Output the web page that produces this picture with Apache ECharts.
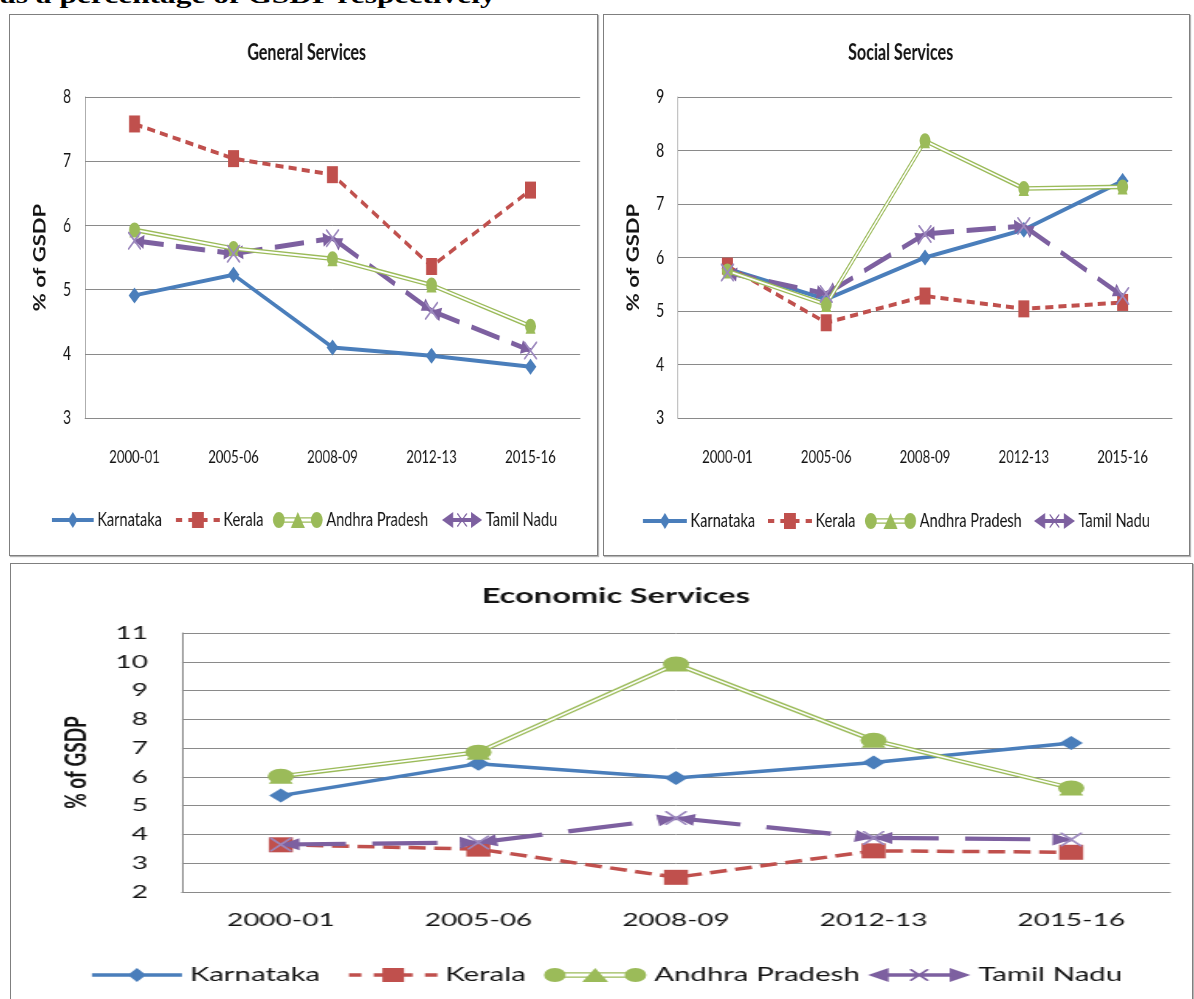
<!DOCTYPE html>
<html>
<head>
<meta charset="utf-8">
<script src="https://cdn.jsdelivr.net/npm/echarts@6/dist/echarts.min.js"></script>
<style>
  html, body { margin: 0; padding: 0; background: #fff; width: 1194px; height: 999px; overflow: hidden; position: relative; }
  .chart { position: absolute; transform-origin: 0 0; }
  .panel { position: absolute; box-sizing: border-box; border: 1px solid #7f7f7f; box-shadow: 1px 1px 1px #b5b5b5; pointer-events: none; }
  #head { position: absolute; left: 0; top: -17px; font: bold 24px/24px 'Liberation Serif', 'Times New Roman', serif; white-space: nowrap; transform-origin: 0 0; transform: scaleX(1.31); color: #000; }
</style>
</head>
<body>
<div id="head">as a percentage of GSDP respectively</div>
<div id="c1" class="chart"></div>
<div id="c2" class="chart"></div>
<div id="c3" class="chart"></div>
<div id="p1" class="panel"></div>
<div id="p2" class="panel"></div>
<div id="p3" class="panel"></div>
<script>
// Years shown on every category axis
const categories = ['2000-01', '2005-06', '2008-09', '2012-13', '2015-16'];
const states = ['Karnataka', 'Kerala', 'Andhra Pradesh', 'Tamil Nadu'];

// General Services expenditure, % of GSDP
const generalKarnataka = [4.91, 5.23, 4.10, 3.97, 3.80];
const generalKerala    = [7.58, 7.04, 6.79, 5.36, 6.55];
const generalAndhra    = [5.93, 5.64, 5.48, 5.07, 4.43];
const generalTamil     = [5.76, 5.56, 5.80, 4.67, 4.05];

// Social Services expenditure, % of GSDP
const socialKarnataka = [5.79, 5.22, 6.00, 6.52, 7.43];
const socialKerala    = [5.84, 4.78, 5.28, 5.04, 5.16];
const socialAndhra    = [5.75, 5.12, 8.18, 7.29, 7.32];
const socialTamil     = [5.72, 5.32, 6.44, 6.59, 5.28];

// Economic Services expenditure, % of GSDP
const economicKarnataka = [5.35, 6.46, 5.96, 6.50, 7.18];
const economicKerala    = [3.64, 3.49, 2.51, 3.43, 3.38];
const economicAndhra    = [6.02, 6.86, 9.92, 7.27, 5.61];
const economicTamil     = [3.65, 3.72, 4.57, 3.88, 3.82];

// Axis ranges
const generalAxis  = { min: 3, max: 8,  interval: 1 };
const socialAxis   = { min: 3, max: 9,  interval: 1 };
const economicAxis = { min: 2, max: 11, interval: 1 };

const COLOR = {
  karnataka: '#4A7EBB',
  kerala: '#C0504D',
  andhra: '#9BBB59',
  tamil: '#7D60A0',
  tamilMark: '#9C88BE',
  grid: '#8a8a8a',
  text: '#141414'
};
const FONT = "Lato, 'Open Sans', sans-serif";

// ---- small path helpers (all shapes wound clockwise so unions fill solid)
const f = v => (+v).toFixed(2);
function rectPath(x0, y0, x1, y1) {
  return `M${f(x0)} ${f(y0)}L${f(x1)} ${f(y0)}L${f(x1)} ${f(y1)}L${f(x0)} ${f(y1)}Z`;
}
function circlePath(cx, cy, r) {
  return `M${f(cx - r)} ${f(cy)}A${f(r)} ${f(r)} 0 1 1 ${f(cx + r)} ${f(cy)}A${f(r)} ${f(r)} 0 1 1 ${f(cx - r)} ${f(cy)}Z`;
}
function diamondPath(cx, cy, dx, dy) {
  return `M${f(cx)} ${f(cy - dy)}L${f(cx + dx)} ${f(cy)}L${f(cx)} ${f(cy + dy)}L${f(cx - dx)} ${f(cy)}Z`;
}
function crossPath(x, y, s, t) {
  return `M${f(x)} ${f(y)}L${f(x + t)} ${f(y)}L${f(x + s)} ${f(y + s - t)}L${f(x + s)} ${f(y + s)}L${f(x + s - t)} ${f(y + s)}L${f(x)} ${f(y + t)}Z` +
         `M${f(x + s)} ${f(y)}L${f(x + s)} ${f(y + t)}L${f(x + t)} ${f(y + s)}L${f(x)} ${f(y + s)}L${f(x)} ${f(y + s - t)}L${f(x + s - t)} ${f(y)}Z`;
}

// Marker shapes
const andhraMarker = 'path://' + circlePath(5, 5, 5) + 'M5 1L9.6 10L0.4 10Z';
const tamilMarker = 'path://' + crossPath(0, 0, 20, 1.6);

// Legend icons (drawn in an exact w x h box)
function iconKarnataka(w, h, lw) {
  return 'path://' + rectPath(0, h / 2 - lw / 2, w, h / 2 + lw / 2) + diamondPath(w / 2, h / 2, h * 0.42, h / 2);
}
function iconKerala(w, h, lw) {
  const y0 = h / 2 - lw / 2, y1 = h / 2 + lw / 2;
  return 'path://' + rectPath(0, y0, w * 0.14, y1) + rectPath(w * 0.28, y0, w * 0.72, y1) +
         rectPath(w * 0.86, y0, w, y1) + rectPath(w / 2 - h * 0.5, 0, w / 2 + h * 0.5, h);
}
function iconAndhra(w, h) {
  const r = h / 2, t = 1.3, g = 1.4;
  return 'path://' + rectPath(r, h / 2 - g - t, w - r, h / 2 - g) + rectPath(r, h / 2 + g, w - r, h / 2 + g + t) +
         circlePath(r, h / 2, r) + circlePath(w - r, h / 2, r) +
         `M${f(w / 2)} 0L${f(w / 2 + h * 0.6)} ${f(h)}L${f(w / 2 - h * 0.6)} ${f(h)}Z`;
}
function iconTamil(w, h, lw) {
  const tl = h * 0.95, s = h * 0.85;
  return 'path://' + `M0 ${f(h / 2)}L${f(tl)} 0L${f(tl)} ${f(h)}Z` +
         `M${f(w)} ${f(h / 2)}L${f(w - tl)} ${f(h)}L${f(w - tl)} 0Z` +
         rectPath(tl * 0.8, h / 2 - lw / 2, w - tl * 0.8, h / 2 + lw / 2) +
         crossPath(w / 2 - s / 2, h / 2 - s / 2, s, 1.1);
}

function buildSeries(d, st) {
  const tamilSegments = [];
  for (let i = 0; i < categories.length - 1; i++) {
    tamilSegments.push([{ coord: [i, d.tn[i]] }, { coord: [i + 1, d.tn[i + 1]] }]);
  }
  return [
    { name: 'Karnataka', type: 'line', data: d.kar, symbol: 'diamond', symbolSize: st.diamond,
      itemStyle: { color: COLOR.karnataka, borderWidth: 0 },
      lineStyle: { color: COLOR.karnataka, width: st.lw }, z: 3 },
    { name: 'Kerala', type: 'line', data: d.ker, symbol: 'rect', symbolSize: st.square,
      itemStyle: { color: COLOR.kerala, borderWidth: 0 },
      lineStyle: { color: COLOR.kerala, width: st.lw, type: st.keralaDash, cap: 'butt' }, z: 4 },
    // double (compound) line: wide green stroke with a white core, markers on top
    { name: 'Andhra Pradesh', type: 'line', data: d.ap, symbol: 'none',
      itemStyle: { color: COLOR.andhra }, lineStyle: { color: COLOR.andhra, width: st.apOuter }, z: 5 },
    { name: 'Andhra Pradesh', type: 'line', data: d.ap, symbol: 'none',
      itemStyle: { color: COLOR.andhra }, lineStyle: { color: '#ffffff', width: st.apInner }, z: 5 },
    { name: 'Andhra Pradesh', type: 'line', data: d.ap, symbol: andhraMarker, symbolSize: st.apMark,
      itemStyle: { color: COLOR.andhra, borderWidth: 0 }, lineStyle: { width: 0, opacity: 0 }, z: 5 },
    // long-dash line with arrow heads at both ends of every segment, X markers
    { name: 'Tamil Nadu', type: 'line', data: d.tn, symbol: tamilMarker, symbolSize: st.xMark,
      itemStyle: { color: COLOR.tamilMark, borderWidth: 0 }, lineStyle: { width: 0, opacity: 0 }, z: 6,
      markLine: {
        silent: true, animation: false,
        symbol: ['triangle', 'triangle'], symbolSize: st.arrow,
        symbolOffset: [[0, st.arrow[1] / 2], [0, st.arrow[1] / 2]],
        label: { show: false }, emphasis: { disabled: true },
        lineStyle: { color: COLOR.tamil, width: st.tnw, type: st.tnDash, cap: 'butt' },
        data: tamilSegments
      } }
  ];
}

function buildChart(cfg) {
  const sx = cfg.panel.w / cfg.W;
  const ux = p => (p - cfg.panel.left) / sx;      // page x -> chart x
  const uy = p => p - cfg.panel.top;              // page y -> chart y

  const el = document.getElementById(cfg.id);
  el.style.left = cfg.panel.left + 'px';
  el.style.top = cfg.panel.top + 'px';
  el.style.width = cfg.W + 'px';
  el.style.height = cfg.H + 'px';
  el.style.transform = `scaleX(${sx})`;

  const pn = document.getElementById(cfg.panelId);
  pn.style.left = cfg.panel.left + 'px';
  pn.style.top = cfg.panel.top + 'px';
  pn.style.width = cfg.panel.w + 'px';
  pn.style.height = cfg.panel.h + 'px';

  const st = cfg.style;
  const icons = [
    iconKarnataka(cfg.legend[0].w, st.iconH, st.lw),
    iconKerala(cfg.legend[1].w, st.iconH, st.lw),
    iconAndhra(cfg.legend[2].w, st.iconH),
    iconTamil(cfg.legend[3].w, st.iconH, st.tnw * 0.8)
  ];
  const legendColors = [COLOR.karnataka, COLOR.kerala, COLOR.andhra, COLOR.tamil];
  const legends = states.map((name, i) => ({
    data: [{ name, icon: icons[i], itemStyle: { color: legendColors[i], borderWidth: 0 } }],
    left: ux(cfg.legend[i].x), top: uy(cfg.legendY) - 11,
    itemWidth: cfg.legend[i].w, itemHeight: st.iconH, padding: 0, itemGap: 0,
    selectedMode: false, itemStyle: { borderWidth: 0 },
    textStyle: { fontFamily: FONT, fontSize: st.legendFont, color: COLOR.text, lineHeight: 22 }
  }));

  const chart = echarts.init(el, null, { renderer: 'canvas' });
  chart.setOption({
    animation: false,
    backgroundColor: '#ffffff',
    title: {
      text: cfg.title, left: ux(cfg.titleX), top: cfg.titleTop, textAlign: 'center',
      textStyle: { fontFamily: FONT, fontWeight: 'bold', fontSize: st.titleFont, color: COLOR.text }
    },
    legend: legends,
    grid: {
      left: ux(cfg.grid.x0), right: cfg.W - ux(cfg.grid.x1),
      top: uy(cfg.grid.y0), height: cfg.grid.y1 - cfg.grid.y0,
      containLabel: false, outerBoundsMode: 'none'
    },
    xAxis: {
      type: 'category', data: categories, boundaryGap: true,
      axisTick: { show: false },
      axisLine: { show: true, lineStyle: { color: COLOR.grid, width: 1 } },
      axisLabel: { margin: st.xMargin, color: COLOR.text, fontFamily: FONT, fontSize: st.axisFont },
      splitLine: { show: false }
    },
    yAxis: {
      type: 'value', min: cfg.axis.min, max: cfg.axis.max, interval: cfg.axis.interval,
      axisLine: { show: true, lineStyle: { color: COLOR.grid, width: 1 } },
      axisTick: { show: false },
      splitLine: { show: true, lineStyle: { color: COLOR.grid, width: 1 } },
      axisLabel: { margin: st.yMargin, color: COLOR.text, fontFamily: FONT, fontSize: st.yFont },
      name: '% of GSDP', nameLocation: 'middle', nameRotate: 90, nameGap: st.nameGap,
      nameTextStyle: { fontFamily: FONT, fontWeight: 'bold', fontSize: st.nameFont, color: COLOR.text }
    },
    series: buildSeries(cfg.data, st)
  });
}

const topStyle = {
  lw: 4, keralaDash: [11, 7], apOuter: 4.6, apInner: 1.8, tnw: 5, tnDash: [40, 17],
  diamond: [16, 16], square: [15, 17], apMark: [15, 15], xMark: [18, 18], arrow: [14, 13],
  iconH: 16, legendFont: 20, axisFont: 18, yFont: 19, titleFont: 22, nameFont: 22,
  xMargin: 30, yMargin: 19, nameGap: 50
};
const bottomStyle = {
  lw: 3.5, keralaDash: [11, 5.5], apOuter: 4.2, apInner: 1.6, tnw: 4.2, tnDash: [42, 17],
  diamond: [15, 14], square: [15.5, 15], apMark: [17, 15], xMark: [14, 14], arrow: [12, 12],
  iconH: 14, legendFont: 19, axisFont: 18, yFont: 18, titleFont: 21, nameFont: 19,
  xMargin: 19, yMargin: 22, nameGap: 59
};

buildChart({
  id: 'c1', panelId: 'p1', W: 807, H: 542,
  panel: { left: 9, top: 14, w: 589, h: 542 },
  title: 'General Services', titleX: 303, titleTop: 23,
  grid: { x0: 85, x1: 580, y0: 97, y1: 418 },
  axis: generalAxis,
  data: { kar: generalKarnataka, ker: generalKerala, ap: generalAndhra, tn: generalTamil },
  legendY: 520,
  legend: [{ x: 52, w: 57 }, { x: 176, w: 60 }, { x: 273, w: 68 }, { x: 442, w: 55 }],
  style: topStyle
});

buildChart({
  id: 'c2', panelId: 'p2', W: 804, H: 542,
  panel: { left: 603, top: 14, w: 587, h: 542 },
  title: 'Social Services', titleX: 897, titleTop: 23,
  grid: { x0: 678, x1: 1172, y0: 97, y1: 418 },
  axis: socialAxis,
  data: { kar: socialKarnataka, ker: socialKerala, ap: socialAndhra, tn: socialTamil },
  legendY: 521,
  legend: [{ x: 643, w: 60 }, { x: 768, w: 60 }, { x: 865, w: 70 }, { x: 1034, w: 56 }],
  style: topStyle
});

buildChart({
  id: 'c3', panelId: 'p3', W: 763, H: 436,
  panel: { left: 10, top: 563, w: 1183, h: 450 },
  title: 'Economic Services', titleX: 608, titleTop: 18,
  grid: { x0: 182, x1: 1170, y0: 633, y1: 892 },
  axis: economicAxis,
  data: { kar: economicKarnataka, ker: economicKerala, ap: economicAndhra, tn: economicTamil },
  legendY: 975,
  legend: [{ x: 92, w: 58 }, { x: 349, w: 57 }, { x: 544, w: 66 }, { x: 868, w: 66 }],
  style: bottomStyle
});
</script>
</body>
</html>
